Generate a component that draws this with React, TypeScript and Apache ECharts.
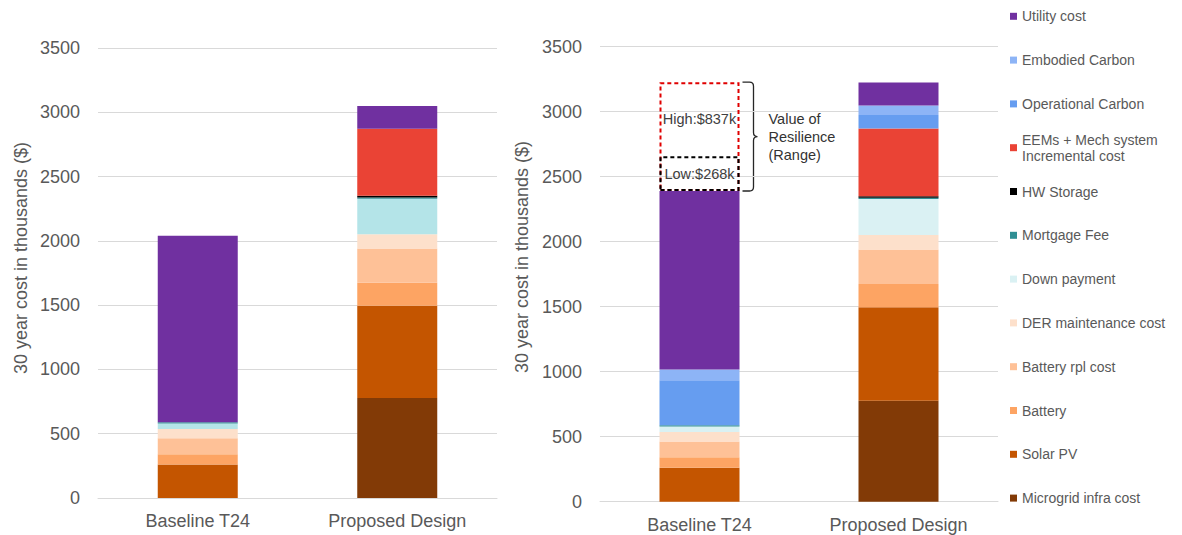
import React, { useEffect, useRef } from "react";
import * as echarts from "echarts";

// ---------- data ----------
const categories = ["Baseline T24", "Proposed Design"];
const yTickMin = 0;
const yTickMax = 3500;
const yTickStep = 500;

// stack order, bottom to top
const seriesNames = [
  "Microgrid infra cost",
  "Solar PV",
  "Battery",
  "Battery rpl cost",
  "DER maintenance cost",
  "Down payment",
  "Mortgage Fee",
  "HW Storage",
  "EEMs + Mech system Incremental cost",
  "Operational Carbon",
  "Embodied Carbon",
  "Utility cost",
];

// left chart (without carbon cost)
const leftMicrogrid = [0, 777];
const leftSolarPV = [261, 718];
const leftBattery = [80, 180];
const leftBatteryRpl = [123, 265];
const leftDERMaint = [73, 112];
const leftDownPayment = [42, 276];
const leftMortgageFee = [10, 10];
const leftHWStorage = [0, 12];
const leftEEMs = [0, 521];
const leftUtility = [1450, 177];

// right chart (with carbon cost)
const rightMicrogrid = [0, 777];
const rightSolarPV = [261, 718];
const rightBattery = [80, 180];
const rightBatteryRpl = [123, 265];
const rightDERMaint = [73, 112];
const rightDownPayment = [42, 276];
const rightMortgageFee = [10, 10];
const rightHWStorage = [0, 12];
const rightEEMs = [0, 521];
const rightOperationalCarbon = [346, 103];
const rightEmbodiedCarbon = [82, 74];
const rightUtility = [1373, 177];

// value of resilience (thousands $)
const resilienceHigh = 837;
const resilienceLow = 268;

// ---------- styles ----------
const FONT = "'Liberation Sans', Arial, sans-serif";
const TEXT = "#595959";
const GRID_LINE = "#d9d9d9";

const colors: Record<string, string> = {
  "Microgrid infra cost": "#823A06",
  "Solar PV": "#C45500",
  "Battery": "#FDA463",
  "Battery rpl cost": "#FEC197",
  "DER maintenance cost": "#FDE0CB",
  "Down payment": "#DAF1F3",
  "Mortgage Fee": "#2F8F94",
  "HW Storage": "#000000",
  "EEMs + Mech system Incremental cost": "#EA4335",
  "Operational Carbon": "#669DF0",
  "Embodied Carbon": "#8DB4F6",
  "Utility cost": "#7030A0",
};
const leftColorOverride: Record<string, string> = {
  "Down payment": "#B4E4E8",
};

export default function App() {
  const ref = useRef<HTMLDivElement>(null);

  useEffect(() => {
    if (!ref.current) return;
    const chart = echarts.init(ref.current, undefined, { renderer: "svg" });

    const leftData: (number[] | null)[] = [
      leftMicrogrid, leftSolarPV, leftBattery, leftBatteryRpl, leftDERMaint,
      leftDownPayment, leftMortgageFee, leftHWStorage, leftEEMs, null, null, leftUtility,
    ];
    const rightData: number[][] = [
      rightMicrogrid, rightSolarPV, rightBattery, rightBatteryRpl, rightDERMaint,
      rightDownPayment, rightMortgageFee, rightHWStorage, rightEEMs,
      rightOperationalCarbon, rightEmbodiedCarbon, rightUtility,
    ];

    const series: any[] = [];
    seriesNames.forEach((n, i) => {
      const ld = leftData[i];
      if (ld) {
        series.push({
          name: n, type: "bar", xAxisIndex: 0, yAxisIndex: 0, stack: "left",
          barWidth: 80, data: ld,
          itemStyle: { color: leftColorOverride[n] || colors[n] },
        });
      }
    });
    seriesNames.forEach((n, i) => {
      series.push({
        name: n, type: "bar", xAxisIndex: 1, yAxisIndex: 1, stack: "right",
        barWidth: 80, barGap: "-100%", data: rightData[i],
        itemStyle: { color: colors[n] },
      });
    });

    // base of resilience boxes = top of the right baseline stack
    const base = rightData.reduce((s, arr) => s + arr[0], 0);
    const annoLabel = { color: "#404040", fontSize: 14.5, fontFamily: FONT };
    series.push(
      {
        name: "_hiBase", type: "bar", xAxisIndex: 1, yAxisIndex: 1, stack: "hi",
        barWidth: 80, barGap: "-100%", silent: true,
        data: [base, null], itemStyle: { color: "transparent" },
      },
      {
        name: "_hiBox", type: "bar", xAxisIndex: 1, yAxisIndex: 1, stack: "hi",
        barWidth: 80, barGap: "-100%", silent: true,
        data: [resilienceHigh, null],
        itemStyle: { color: "transparent", borderColor: "#E00000", borderWidth: 2, borderType: [4, 3] },
      },
      {
        name: "_loBase", type: "bar", xAxisIndex: 1, yAxisIndex: 1, stack: "lo",
        barWidth: 80, barGap: "-100%", silent: true,
        data: [base, null], itemStyle: { color: "transparent" },
      },
      {
        name: "_loBox", type: "bar", xAxisIndex: 1, yAxisIndex: 1, stack: "lo",
        barWidth: 80, barGap: "-100%", silent: true,
        data: [resilienceLow, null],
        itemStyle: { color: "transparent", borderColor: "#000000", borderWidth: 2, borderType: [4, 3] },
        label: { show: true, position: "inside", formatter: `Low:$${resilienceLow}k`, ...annoLabel },
      },
      {
        name: "_hiLabel", type: "bar", xAxisIndex: 1, yAxisIndex: 1, stack: "lo",
        barWidth: 80, barGap: "-100%", silent: true,
        data: [resilienceHigh - resilienceLow, null],
        itemStyle: { color: "transparent" },
        label: { show: true, position: "inside", formatter: `High:$${resilienceHigh}k`, ...annoLabel },
      }
    );

    const legendOrder = [...seriesNames].reverse();
    const eemName = "EEMs + Mech system Incremental cost";
    const legends = legendOrder.map((n, i) => {
      const cy = 16.3 + i * 43.8;
      const isEem = n === eemName;
      return {
        left: 1010,
        top: isEem ? cy - 24 : cy - 8,
        padding: 0,
        itemWidth: 7,
        itemHeight: 7,
        icon: "rect",
        selectedMode: false,
        data: [{ name: n, itemStyle: { color: colors[n] } }],
        formatter: (name: string) =>
          name === eemName ? "EEMs + Mech system\nIncremental cost" : name,
        textStyle: {
          fontSize: 14,
          color: TEXT,
          fontFamily: FONT,
          lineHeight: 16,
          ...(isEem ? { padding: [16, 0, 0, 0] } : {}),
        },
      };
    });

    const yAxisCommon = {
      type: "value",
      min: yTickMin,
      max: yTickMax,
      interval: yTickStep,
      axisLine: { show: false },
      axisTick: { show: false },
      axisLabel: {
        color: TEXT, fontSize: 18, fontFamily: FONT, margin: 18,
        formatter: (v: number) => String(v),
      },
      splitLine: { lineStyle: { color: GRID_LINE, width: 1 } },
    };
    const xAxisCommon = {
      type: "category",
      data: categories,
      axisLine: { lineStyle: { color: GRID_LINE, width: 1 } },
      axisTick: { show: false },
      axisLabel: { color: TEXT, fontSize: 18, fontFamily: FONT, margin: 14 },
    };

    const axisTitle = (id: string, x: number, y: number) => ({
      id, type: "text", x, y, rotation: Math.PI / 2,
      style: {
        text: "30 year cost in thousands ($)",
        fontSize: 18, fontFamily: FONT, fill: TEXT,
        align: "center", verticalAlign: "middle",
      },
    });

    chart.setOption({
      animation: false,
      grid: [
        { left: 98, top: 48, width: 399, height: 450 },
        { left: 600, top: 46.7, width: 398, height: 455 },
      ],
      xAxis: [{ ...xAxisCommon, gridIndex: 0 }, { ...xAxisCommon, gridIndex: 1 }],
      yAxis: [{ ...yAxisCommon, gridIndex: 0 }, { ...yAxisCommon, gridIndex: 1 }],
      legend: legends,
      series,
      graphic: [axisTitle("t1", 21, 258), axisTitle("t2", 522, 257)],
    });

    // curly brace and text next to the resilience boxes
    const xc = chart.convertToPixel({ xAxisIndex: 1 }, categories[0]) as number;
    const yT = chart.convertToPixel({ yAxisIndex: 1 }, base + resilienceHigh) as number;
    const yB = chart.convertToPixel({ yAxisIndex: 1 }, base) as number;
    const x0 = xc + 40 + 3;
    const x1 = x0 + 11;
    const x2 = x1 + 4;
    const ym = (yT + yB) / 2;
    const r = 4;
    const d =
      `M${x0} ${yT} L${x1 - r} ${yT} Q${x1} ${yT} ${x1} ${yT + r} ` +
      `L${x1} ${ym - r} Q${x1} ${ym} ${x2} ${ym} Q${x1} ${ym} ${x1} ${ym + r} ` +
      `L${x1} ${yB - r} Q${x1} ${yB} ${x1 - r} ${yB} L${x0} ${yB}`;
    echarts.graphic.registerShape("resBrace", echarts.graphic.extendPath(d, {}) as any);

    chart.setOption({
      graphic: [
        axisTitle("t1", 21, 258),
        axisTitle("t2", 522, 257),
        {
          id: "brace", type: "resBrace", silent: true,
          style: { fill: "none", stroke: "#262626", lineWidth: 1.3 },
        },
        {
          id: "resText", type: "text", x: x2 + 11, y: ym, silent: true,
          style: {
            text: "Value of\nResilience\n(Range)",
            fontSize: 14.5, fontFamily: FONT, fill: "#333333",
            lineHeight: 18, align: "left", verticalAlign: "middle",
          },
        },
      ],
    });

    return () => chart.dispose();
  }, []);

  return (
    <div
      ref={ref}
      style={{ position: "fixed", left: 0, top: 0, width: 1182, height: 535, background: "#fff" }}
    />
  );
}
